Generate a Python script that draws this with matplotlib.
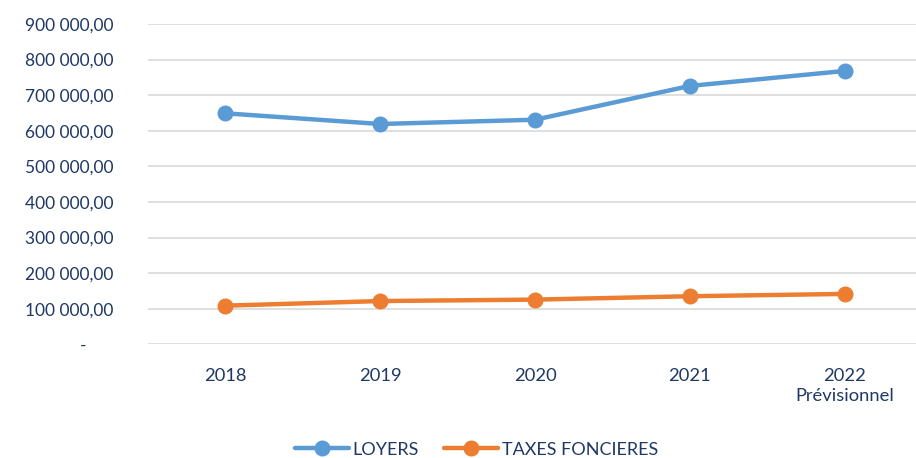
import matplotlib
matplotlib.use("Agg")
import matplotlib.pyplot as plt
from matplotlib.ticker import FuncFormatter

categories = ["2018", "2019", "2020", "2021", "2022\nPrévisionnel"]
loyers = [649000, 619000, 631000, 726000, 768000]
taxes = [108500, 121500, 125500, 135000, 141500]
yticks = [0, 100000, 200000, 300000, 400000, 500000, 600000, 700000, 800000, 900000]

plt.rcParams['font.family'] = ['Lato', 'DejaVu Sans']
text_color = '#1F3864'

fig = plt.figure(figsize=(9.16, 4.58), dpi=100)
ax = fig.add_axes([0.1616, 0.2483, 0.845, 0.6993])

x = list(range(len(categories)))
ax.plot(x, loyers, color='#5B9BD5', lw=3.2, marker='o', ms=10.5, label='LOYERS', solid_capstyle='round')
ax.plot(x, taxes, color='#ED7D31', lw=3.2, marker='o', ms=10.5, label='TAXES FONCIERES', solid_capstyle='round')

ax.set_xlim(-0.5, len(categories) - 0.5)
ax.set_ylim(0, 900000)
ax.set_yticks(yticks)

def fmt(v, pos):
    if v == 0:
        return "-      "
    s = f"{int(v):,}".replace(",", " ")
    return s + ",00"

ax.yaxis.set_major_formatter(FuncFormatter(fmt))
ax.set_xticks(x)
ax.set_xticklabels(categories)
ax.grid(axis='y', color='#D9D9D9', lw=1.2)
ax.set_axisbelow(True)
for s in ax.spines.values():
    s.set_visible(False)
ax.tick_params(axis='y', length=0, pad=25, labelsize=12.5, labelcolor=text_color)
ax.tick_params(axis='x', length=0, pad=17, labelsize=13.2, labelcolor=text_color)
for lbl in ax.get_xticklabels():
    lbl.set_linespacing(1.35)

leg = fig.legend(loc='lower center', bbox_to_anchor=(0.52, -0.035), ncol=2, frameon=False,
                 fontsize=13, handlelength=3.0, columnspacing=1.4, handletextpad=0.2)
for t in leg.get_texts():
    t.set_color(text_color)

fig.savefig("out.png", dpi=100)
